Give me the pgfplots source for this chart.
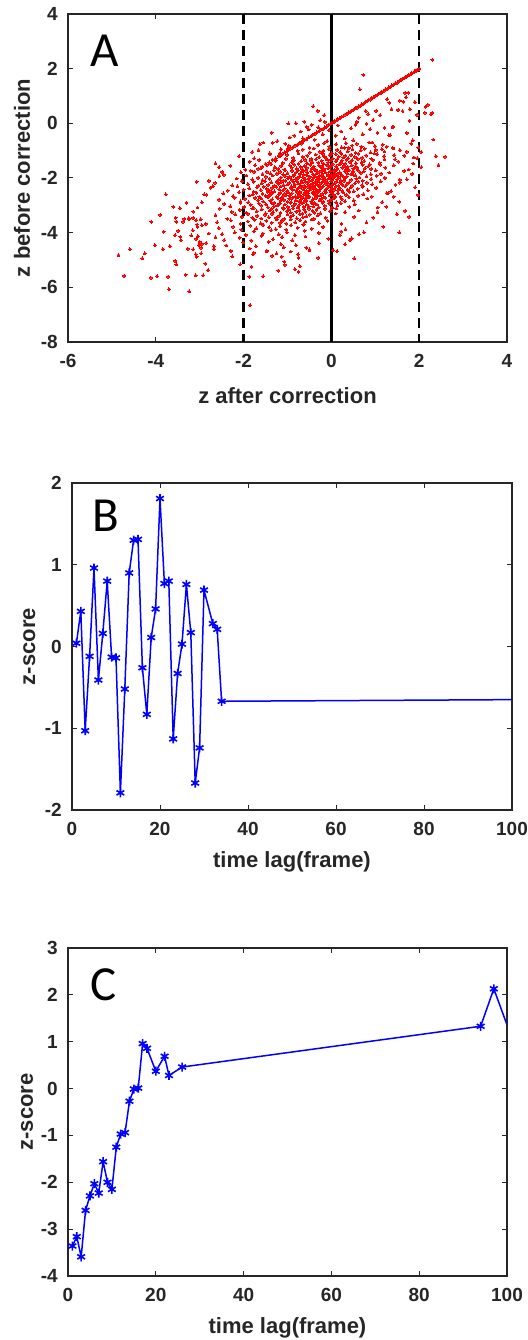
\documentclass[border=0pt]{standalone}
\usepackage{fontspec}
\setmainfont{Liberation Sans}
\newfontfamily\letterfont{Carlito}
\usepackage{pgfplots}
\pgfplotsset{compat=1.18}
\definecolor{axgray}{rgb}{0.15,0.15,0.15}
\definecolor{mblue}{rgb}{0,0,1}
\pgfplotsset{
  mystyle/.style={
    scale only axis,
    axis line style={axgray, line width=1.2pt},
    tick style={axgray, line width=1pt},
    major tick length=5pt,
    tick align=inside,
    xtick pos=both, ytick pos=both,
    tick label style={font=\fontsize{19}{22}\selectfont\bfseries, text=axgray},
    xticklabel style={inner sep=0pt, anchor=north, yshift=-12pt},
    yticklabel style={inner sep=0pt, anchor=east, xshift=-10pt},
    label style={font=\fontsize{22}{26}\selectfont\bfseries, text=axgray},
    clip=true,
  },
}
\tikzset{letter/.style={anchor=base west, inner sep=0pt, font=\letterfont\fontsize{49}{52}\selectfont}}
\begin{document}
\begin{tikzpicture}
\useasboundingbox (0pt,0pt) rectangle (527pt,-1340pt);
% ---------------- Panel A ----------------
\begin{axis}[mystyle,
  at={(68pt,-14pt)}, anchor=north west,
  width=439pt, height=328pt,
  xmin=-6, xmax=4, ymin=-8, ymax=4,
  xtick={-6,-4,-2,0,2,4}, xticklabels={-6,-4,-2,0,2,4},
  ytick={-8,-6,-4,-2,0,2,4}, yticklabels={-8,-6,-4,-2,0,2,4},
  xlabel={z after correction},
  ylabel={z before correction},
  xlabel style={at={(axis description cs:0.5,-0.186)}, anchor=base},
  ylabel style={at={(axis description cs:-0.0866,0.5)}, anchor=base, rotate=0},
]
\addplot[color=red, only marks, mark=*, mark size=1.45pt, mark options={draw=red, fill=red, line width=0pt}] coordinates {
(2.00,2.00) (1.96,1.97) (1.93,1.92) (1.90,1.91) (1.87,1.86) (1.83,1.84) (1.80,1.79) (1.76,1.77) (1.72,1.71) (1.69,1.70) (1.65,1.64) (1.61,1.62) (1.58,1.57) (1.54,1.55) (1.50,1.49) (1.46,1.47) (1.42,1.41) (1.38,1.39) (1.35,1.34) (1.31,1.32) (1.27,1.26) (1.23,1.24) (1.19,1.18) (1.15,1.16) (1.12,1.11) (1.08,1.09) (1.04,1.03) (1.00,1.01) (0.96,0.95) (0.92,0.93) (0.88,0.87) (0.85,0.86) (0.81,0.80) (0.77,0.78) (0.73,0.72) (0.69,0.70) (0.66,0.65) (0.62,0.63) (0.58,0.57) (0.54,0.55) (0.50,0.49) (0.46,0.47) (0.43,0.42) (0.39,0.40) (0.35,0.34) (0.31,0.32) (0.27,0.26) (0.23,0.24) (0.19,0.18) (0.15,0.16) (0.12,0.11) (0.08,0.09) (0.04,0.03) (0.01,0.02) (-0.03,-0.04) (-0.07,-0.06) (-0.11,-0.12) (-0.15,-0.14) (-0.19,-0.20) (-0.24,-0.23) (-0.28,-0.29) (-0.33,-0.32) (-0.38,-0.39) (-0.42,-0.41) (-0.47,-0.48) (-0.52,-0.51) (-0.57,-0.58) (-0.62,-0.61) (-0.67,-0.68) (-0.72,-0.71) (-0.78,-0.79) (-0.83,-0.82) (-0.89,-0.90) (-0.95,-0.94) (-1.01,-1.02) (-1.07,-1.06) (-1.13,-1.14) (-1.20,-1.19) (-1.27,-1.28) (-1.34,-1.33) (-1.42,-1.43) (-1.50,-1.49) (-1.58,-1.59) (-1.67,-1.66) (-1.76,-1.77)
(2.30,2.32) (0.73,1.77) (0.65,1.24)
(1.68,1.12) (1.75,1.12) (1.56,0.83) (1.64,0.79) (1.27,0.89) (1.32,0.75) (1.37,0.52) (1.62,0.45) (1.79,0.51) (2.15,0.61) (2.27,0.34) (2.30,0.39) (2.13,0.39) (1.02,0.46) (0.78,0.45) (0.84,0.34) (1.21,-0.16) (1.40,-0.15) (1.31,-0.43) (2.32,-0.59) (2.38,-1.20) (2.59,-1.22) (2.44,-1.53) (1.52,0.49) (1.41,-0.12) (1.34,-0.43) (1.26,-0.85) (1.56,-0.98) (1.11,0.30) (0.95,0.12) (0.62,0.21) (0.55,-0.05) (0.88,-0.22) (1.05,-0.35) (0.71,-0.40) (0.45,-0.18) (0.50,-0.62) (0.93,-0.70) (1.15,-0.95) (0.68,-0.85) (1.72,-0.35) (1.85,-0.62) (1.98,-0.88) (2.05,-1.05) (1.88,-1.25) (1.66,-1.18) (1.45,-1.32) (1.20,-1.20) (0.98,-1.10) (0.40,-0.90) (0.30,-0.55) (0.22,-0.30) (0.15,-0.08) (0.58,0.05) (0.80,-0.02) (1.78,0.10) (1.95,0.32) (2.20,0.68) (1.90,0.78) (1.70,0.95)
(-0.41,0.63) (-0.31,0.46) (-0.16,0.30) (-0.98,0.00) (-0.81,0.00) (-0.62,0.06) (-0.56,-0.13) (-0.45,-0.05) (-1.36,-0.34) (-1.63,-0.76) (-1.23,-0.65) (-0.70,-0.30) (-0.85,-0.45) (-1.05,-0.75) (-0.30,-0.15) (-0.15,0.05) (-0.25,0.12) (-0.52,-0.22) (-0.95,-0.52) (-1.15,-0.95) (-1.40,-1.10) (-0.65,-0.55) (-0.20,-0.40) (-0.05,-0.25) (-0.38,-0.60) (0.10,-0.45) (-0.10,-0.65)
(-1.34,-0.71) (-0.97,-0.82) (-0.67,-0.74) (-0.50,-0.89) (-0.30,-0.79) (-0.16,-0.72) (-0.05,-0.85) (0.11,-0.76) (0.23,-0.88) (0.33,-0.73) (0.47,-0.81) (0.58,-0.75) (0.69,-0.86) (0.86,-0.70) (0.99,-0.83) (1.17,-0.78) (1.40,-0.90) (1.82,-0.74)
(-1.66,-0.98) (-1.17,-1.10) (-0.99,-0.93) (-0.77,-1.01) (-0.65,-0.96) (-0.49,-1.07) (-0.40,-0.92) (-0.26,-1.04) (-0.18,-1.00) (-0.06,-0.94) (0.01,-1.09) (0.13,-0.97) (0.20,-1.05) (0.30,-0.90) (0.37,-1.02) (0.48,-0.95) (0.55,-1.08) (0.67,-0.99) (0.76,-0.93) (0.89,-1.06) (1.01,-0.97) (1.21,-1.03) (1.41,-0.92) (1.72,-1.04)
(-1.76,-1.28) (-1.40,-1.13) (-1.17,-1.21) (-1.01,-1.15) (-0.87,-1.26) (-0.75,-1.10) (-0.65,-1.23) (-0.55,-1.18) (-0.46,-1.30) (-0.36,-1.14) (-0.28,-1.24) (-0.20,-1.12) (-0.16,-1.20) (-0.12,-1.27) (-0.04,-1.16) (0.03,-1.29) (0.10,-1.13) (0.17,-1.22) (0.23,-1.11) (0.27,-1.25) (0.31,-1.19) (0.38,-1.28) (0.45,-1.15) (0.53,-1.23) (0.61,-1.11) (0.70,-1.26) (0.79,-1.18) (0.91,-1.30) (1.04,-1.13) (1.20,-1.21) (1.43,-1.16) (1.96,-1.27)
(-1.86,-1.40) (-1.64,-1.34) (-1.37,-1.49) (-1.27,-1.37) (-1.11,-1.45) (-1.04,-1.30) (-0.90,-1.42) (-0.85,-1.35) (-0.75,-1.48) (-0.69,-1.39) (-0.60,-1.33) (-0.56,-1.46) (-0.46,-1.37) (-0.43,-1.43) (-0.35,-1.32) (-0.30,-1.44) (-0.22,-1.37) (-0.19,-1.47) (-0.11,-1.31) (-0.07,-1.42) (0.00,-1.34) (0.03,-1.49) (0.10,-1.39) (0.13,-1.32) (0.21,-1.45) (0.24,-1.36) (0.31,-1.48) (0.35,-1.33) (0.43,-1.41) (0.47,-1.35) (0.56,-1.46) (0.60,-1.30) (0.69,-1.43) (0.75,-1.38) (0.87,-1.50) (0.94,-1.34) (1.10,-1.44) (1.21,-1.32) (1.52,-1.40) (1.86,-1.47)
(-1.96,-1.70) (-1.74,-1.54) (-1.60,-1.64) (-1.47,-1.52) (-1.29,-1.60) (-1.21,-1.67) (-1.14,-1.56) (-1.07,-1.69) (-0.95,-1.53) (-0.90,-1.62) (-0.85,-1.51) (-0.79,-1.65) (-0.70,-1.59) (-0.66,-1.68) (-0.61,-1.55) (-0.56,-1.63) (-0.48,-1.51) (-0.45,-1.66) (-0.40,-1.58) (-0.36,-1.70) (-0.29,-1.53) (-0.24,-1.61) (-0.21,-1.56) (-0.17,-1.67) (-0.10,-1.52) (-0.07,-1.64) (-0.03,-1.60) (0.00,-1.54) (0.07,-1.69) (0.11,-1.57) (0.14,-1.65) (0.18,-1.50) (0.25,-1.62) (0.29,-1.55) (0.33,-1.68) (0.37,-1.59) (0.46,-1.53) (0.50,-1.66) (0.55,-1.57) (0.59,-1.63) (0.71,-1.52) (0.77,-1.64) (0.84,-1.57) (0.91,-1.67) (1.11,-1.51) (1.23,-1.62) (1.42,-1.54) (1.76,-1.69)
(-2.45,-1.88) (-2.06,-1.79) (-1.84,-1.73) (-1.57,-1.86) (-1.47,-1.77) (-1.39,-1.83) (-1.31,-1.72) (-1.24,-1.84) (-1.17,-1.77) (-1.10,-1.87) (-1.05,-1.71) (-1.00,-1.82) (-0.89,-1.74) (-0.85,-1.89) (-0.80,-1.79) (-0.76,-1.72) (-0.71,-1.85) (-0.66,-1.76) (-0.63,-1.88) (-0.58,-1.73) (-0.55,-1.81) (-0.46,-1.75) (-0.42,-1.86) (-0.39,-1.70) (-0.34,-1.83) (-0.31,-1.78) (-0.27,-1.90) (-0.23,-1.74) (-0.20,-1.84) (-0.17,-1.72) (-0.13,-1.80) (-0.07,-1.87) (-0.03,-1.76) (0.01,-1.89) (0.04,-1.73) (0.08,-1.82) (0.11,-1.71) (0.15,-1.85) (0.19,-1.79) (0.23,-1.88) (0.31,-1.75) (0.36,-1.83) (0.40,-1.71) (0.45,-1.86) (0.49,-1.78) (0.55,-1.90) (0.61,-1.73) (0.67,-1.81) (0.74,-1.76) (0.90,-1.87) (1.01,-1.72) (1.13,-1.84) (1.32,-1.80) (1.66,-1.74)
(-2.55,-1.93) (-2.16,-2.02) (-1.94,-1.91) (-1.80,-2.05) (-1.67,-1.99) (-1.57,-2.08) (-1.49,-1.95) (-1.41,-2.03) (-1.34,-1.91) (-1.20,-2.06) (-1.15,-1.98) (-1.10,-2.10) (-1.05,-1.93) (-0.99,-2.01) (-0.95,-1.96) (-0.90,-2.07) (-0.86,-1.92) (-0.81,-2.04) (-0.76,-2.00) (-0.73,-1.94) (-0.68,-2.09) (-0.65,-1.97) (-0.60,-2.05) (-0.56,-1.90) (-0.52,-2.02) (-0.49,-1.95) (-0.44,-2.08) (-0.41,-1.99) (-0.37,-1.93) (-0.33,-2.06) (-0.30,-1.97) (-0.27,-2.03) (-0.23,-1.92) (-0.20,-2.04) (-0.17,-1.97) (-0.13,-2.07) (-0.09,-1.91) (-0.06,-2.02) (-0.02,-1.94) (0.01,-2.09) (0.05,-1.99) (0.09,-1.92) (0.13,-2.05) (0.17,-1.96) (0.21,-2.08) (0.26,-1.93) (0.30,-2.01) (0.35,-1.95) (0.45,-2.06) (0.51,-1.90) (0.57,-2.03) (0.64,-1.98) (0.71,-2.10) (0.80,-1.94) (0.91,-2.04) (1.03,-1.92) (1.22,-2.00) (1.56,-2.07)
(-2.65,-2.17) (-2.26,-2.27) (-2.04,-2.11) (-1.90,-2.22) (-1.77,-2.14) (-1.67,-2.29) (-1.59,-2.19) (-1.51,-2.12) (-1.44,-2.25) (-1.37,-2.16) (-1.30,-2.28) (-1.25,-2.13) (-1.20,-2.21) (-1.15,-2.15) (-1.09,-2.26) (-1.05,-2.10) (-1.00,-2.23) (-0.96,-2.18) (-0.91,-2.30) (-0.86,-2.14) (-0.83,-2.24) (-0.78,-2.12) (-0.75,-2.20) (-0.70,-2.27) (-0.66,-2.16) (-0.62,-2.29) (-0.59,-2.13) (-0.54,-2.22) (-0.51,-2.11) (-0.47,-2.25) (-0.43,-2.19) (-0.40,-2.28) (-0.37,-2.15) (-0.33,-2.23) (-0.30,-2.11) (-0.27,-2.26) (-0.23,-2.18) (-0.19,-2.30) (-0.16,-2.13) (-0.12,-2.21) (-0.09,-2.16) (-0.05,-2.27) (-0.01,-2.12) (0.03,-2.24) (0.07,-2.20) (0.11,-2.14) (0.16,-2.29) (0.20,-2.17) (0.25,-2.25) (0.29,-2.10) (0.35,-2.22) (0.41,-2.15) (0.47,-2.28) (0.54,-2.19) (0.61,-2.13) (0.70,-2.26) (0.81,-2.17) (0.93,-2.23) (1.12,-2.12) (1.46,-2.24)
(-2.75,-2.35) (-2.36,-2.46) (-2.14,-2.30) (-2.00,-2.43) (-1.87,-2.38) (-1.77,-2.50) (-1.69,-2.34) (-1.61,-2.44) (-1.54,-2.32) (-1.47,-2.40) (-1.40,-2.47) (-1.35,-2.36) (-1.30,-2.49) (-1.25,-2.33) (-1.19,-2.42) (-1.15,-2.31) (-1.10,-2.45) (-1.06,-2.39) (-1.01,-2.48) (-0.93,-2.35) (-0.88,-2.43) (-0.85,-2.31) (-0.80,-2.46) (-0.76,-2.38) (-0.72,-2.50) (-0.69,-2.33) (-0.64,-2.41) (-0.61,-2.36) (-0.57,-2.47) (-0.53,-2.32) (-0.50,-2.44) (-0.47,-2.40) (-0.43,-2.34) (-0.40,-2.49) (-0.37,-2.37) (-0.33,-2.45) (-0.29,-2.30) (-0.26,-2.42) (-0.22,-2.35) (-0.15,-2.48) (-0.11,-2.39) (-0.07,-2.33) (-0.03,-2.46) (0.01,-2.37) (0.06,-2.43) (0.10,-2.32) (0.15,-2.44) (0.19,-2.37) (0.25,-2.47) (0.31,-2.31) (0.37,-2.42) (0.44,-2.34) (0.51,-2.49) (0.60,-2.39) (0.71,-2.32) (0.83,-2.45) (1.02,-2.36) (1.36,-2.48)
(-2.85,-2.61) (-2.46,-2.56) (-2.24,-2.67) (-2.10,-2.52) (-1.87,-2.64) (-1.79,-2.60) (-1.71,-2.54) (-1.64,-2.69) (-1.57,-2.57) (-1.50,-2.65) (-1.45,-2.50) (-1.40,-2.62) (-1.35,-2.55) (-1.25,-2.68) (-1.20,-2.59) (-1.16,-2.53) (-1.11,-2.66) (-1.06,-2.57) (-1.03,-2.63) (-0.98,-2.52) (-0.95,-2.64) (-0.90,-2.57) (-0.82,-2.67) (-0.79,-2.51) (-0.74,-2.62) (-0.71,-2.54) (-0.67,-2.69) (-0.63,-2.59) (-0.60,-2.52) (-0.57,-2.65) (-0.53,-2.56) (-0.50,-2.68) (-0.43,-2.53) (-0.39,-2.61) (-0.36,-2.55) (-0.32,-2.66) (-0.29,-2.50) (-0.25,-2.63) (-0.21,-2.58) (-0.17,-2.70) (-0.13,-2.54) (-0.04,-2.64) (0.00,-2.52) (0.05,-2.60) (0.09,-2.67) (0.15,-2.56) (0.21,-2.69) (0.27,-2.53) (0.34,-2.62) (0.41,-2.51) (0.61,-2.65) (0.73,-2.59) (0.92,-2.68) (1.26,-2.55)
(-2.95,-2.89) (-2.56,-2.79) (-2.20,-2.72) (-2.07,-2.85) (-1.97,-2.76) (-1.89,-2.88) (-1.74,-2.73) (-1.67,-2.81) (-1.60,-2.75) (-1.55,-2.86) (-1.45,-2.70) (-1.39,-2.83) (-1.35,-2.78) (-1.30,-2.90) (-1.21,-2.74) (-1.16,-2.84) (-1.13,-2.72) (-1.08,-2.80) (-1.00,-2.87) (-0.96,-2.76) (-0.92,-2.89) (-0.89,-2.73) (-0.81,-2.82) (-0.77,-2.71) (-0.73,-2.85) (-0.70,-2.79) (-0.63,-2.88) (-0.60,-2.75) (-0.57,-2.83) (-0.53,-2.71) (-0.46,-2.86) (-0.42,-2.78) (-0.39,-2.90) (-0.35,-2.73) (-0.27,-2.81) (-0.23,-2.76) (-0.19,-2.87) (-0.14,-2.72) (-0.05,-2.84) (-0.01,-2.80) (0.05,-2.74) (0.11,-2.89) (0.24,-2.77) (0.31,-2.85) (0.40,-2.70) (0.51,-2.82) (0.82,-2.75) (1.16,-2.88)
(-3.05,-3.08) (-2.44,-2.95) (-2.30,-3.03) (-2.07,-2.91) (-1.99,-3.06) (-1.84,-2.98) (-1.77,-3.10) (-1.65,-2.93) (-1.60,-3.01) (-1.49,-2.96) (-1.45,-3.07) (-1.36,-2.92) (-1.31,-3.04) (-1.23,-3.00) (-1.18,-2.94) (-1.10,-3.09) (-1.06,-2.97) (-0.99,-3.05) (-0.94,-2.90) (-0.87,-3.02) (-0.83,-2.95) (-0.77,-3.08) (-0.73,-2.99) (-0.67,-2.93) (-0.63,-3.06) (-0.56,-2.97) (-0.52,-3.03) (-0.45,-2.92) (-0.41,-3.04) (-0.33,-2.97) (-0.29,-3.07) (-0.20,-2.91) (-0.15,-3.02) (-0.05,-2.94) (0.01,-3.09) (0.14,-2.99) (0.21,-2.92) (0.41,-3.05) (0.53,-2.96) (1.06,-3.08)
(-3.15,-3.23) (-2.54,-3.12) (-2.27,-3.24) (-2.09,-3.17) (-1.94,-3.27) (-1.80,-3.11) (-1.70,-3.22) (-1.59,-3.14) (-1.50,-3.29) (-1.41,-3.19) (-1.36,-3.12) (-1.33,-3.25) (-1.25,-3.16) (-1.16,-3.28) (-1.09,-3.13) (-1.01,-3.21) (-0.97,-3.15) (-0.93,-3.26) (-0.87,-3.10) (-0.80,-3.23) (-0.73,-3.18) (-0.66,-3.30) (-0.62,-3.14) (-0.59,-3.24) (-0.51,-3.12) (-0.43,-3.20) (-0.39,-3.27) (-0.34,-3.16) (-0.25,-3.29) (-0.15,-3.13) (-0.03,-3.22) (0.11,-3.11) (0.31,-3.25) (0.62,-3.19)
(-3.25,-3.47) (-2.64,-3.36) (-2.37,-3.49) (-2.19,-3.33) (-2.04,-3.42) (-1.90,-3.31) (-1.80,-3.45) (-1.69,-3.39) (-1.60,-3.48) (-1.51,-3.35) (-1.43,-3.43) (-1.35,-3.31) (-1.26,-3.46) (-1.19,-3.38) (-1.07,-3.50) (-1.00,-3.33) (-0.93,-3.41) (-0.87,-3.36) (-0.79,-3.47) (-0.72,-3.32) (-0.65,-3.44) (-0.57,-3.40) (-0.49,-3.34) (-0.40,-3.49) (-0.31,-3.37) (-0.13,-3.45) (0.10,-3.30) (0.52,-3.42)
(-3.35,-3.50) (-2.60,-3.62) (-2.29,-3.55) (-2.07,-3.68) (-1.90,-3.59) (-1.75,-3.53) (-1.61,-3.66) (-1.48,-3.57) (-1.36,-3.63) (-1.24,-3.52) (-1.17,-3.64) (-1.13,-3.57) (-1.03,-3.67) (-0.93,-3.51) (-0.82,-3.62) (-0.71,-3.54) (-0.63,-3.69) (-0.59,-3.59) (-0.45,-3.52) (-0.29,-3.65) (-0.09,-3.56) (0.23,-3.68)
(-3.06,-3.70) (-2.57,-3.83) (-2.24,-3.78) (-2.05,-3.90) (-1.85,-3.74) (-1.71,-3.84) (-1.55,-3.72) (-1.42,-3.80) (-1.27,-3.87) (-1.17,-3.76) (-1.03,-3.89) (-0.92,-3.73) (-0.77,-3.82) (-0.64,-3.71) (-0.45,-3.85) (-0.19,-3.79) (0.32,-3.88)
(-3.16,-3.91) (-2.49,-4.05) (-2.20,-3.99) (-1.95,-4.08) (-1.76,-3.95) (-1.56,-4.03) (-1.37,-3.91) (-1.20,-4.06) (-1.02,-3.98) (-0.83,-4.10) (-0.61,-3.93) (-0.29,-4.01) (0.22,-3.96)
(-3.04,-4.13) (-2.44,-4.27) (-2.09,-4.18) (-1.83,-4.29) (-1.59,-4.12) (-1.33,-4.24) (-1.12,-4.16) (-0.89,-4.28) (-0.59,-4.14) (-0.07,-4.22)
(-3.00,-4.34) (-2.40,-4.47) (-2.01,-4.36) (-1.72,-4.49) (-1.43,-4.33) (-1.15,-4.42) (-0.81,-4.46) (-0.29,-4.38)
(-2.97,-4.55) (-2.29,-4.67) (-1.86,-4.58) (-1.47,-4.69) (-1.09,-4.53) (-0.50,-4.64)
(-2.97,-4.76) (-2.26,-4.87) (-1.77,-4.74) (-1.35,-4.85) (-0.76,-4.79)
(-4.85,-4.82) (-4.59,-4.61) (-4.72,-5.58) (-4.31,-4.94) (-4.25,-4.76) (-4.11,-5.65) (-3.97,-5.59) (-3.72,-5.61) (-3.70,-6.07) (-4.02,-4.46) (-3.84,-4.60) (-3.68,-4.49) (-3.82,-3.96) (-3.77,-2.60) (-3.56,-5.03) (-3.53,-5.16) (-3.32,-5.54) (-3.24,-6.15) (-3.09,-5.56) (-2.92,-5.56) (-2.87,-5.13) (-2.81,-5.37) (-3.56,-4.09) (-3.49,-3.93) (-3.44,-4.15) (-3.43,-4.27) (-3.55,-3.46) (-3.53,-3.60) (-3.38,-3.60) (-3.24,-3.51) (-3.15,-3.46) (-3.08,-3.54) (-2.98,-3.51) (-3.05,-3.79) (-3.19,-4.10) (-3.08,-4.23) (-3.27,-4.59) (-3.15,-4.61) (-3.09,-4.79) (-3.07,-4.88) (-3.02,-4.46) (-2.95,-4.41) (-2.85,-4.38) (-2.79,-4.03) (-2.68,-4.60) (-2.68,-4.49) (-2.64,-4.17) (-2.95,-3.73) (-2.86,-3.68) (-3.07,-2.14) (-2.79,-2.10) (-2.64,-1.46) (-2.56,-1.61) (-2.49,-1.78)
(-1.85,-6.65) (-1.55,-5.59) (-1.87,-5.61) (-1.21,-5.39) (-0.83,-5.34) (-0.75,-5.43) (-1.06,-5.18) (-0.72,-5.22) (-1.07,-5.06) (-1.13,-4.88) (-0.75,-4.92) (-0.30,-4.92) (-1.25,-4.76) (-1.47,-4.66) (-1.78,-4.79) (-2.08,-5.16) (-1.82,-5.25) (-0.57,-4.55) (-0.50,-4.61) (-0.93,-4.69) (0.19,-4.09) (0.31,-4.43) (0.46,-4.20) (0.52,-4.94) (0.04,-4.64) (0.13,-4.68)
(0.42,-4.27) (0.74,-3.99) (1.18,-3.78) (1.55,-3.99) (1.77,-3.42) (1.68,-3.20) (1.49,-3.32) (1.84,-1.85) (1.91,-2.34) (1.56,-2.17) (1.55,-2.87) (1.30,-2.55) (1.42,-2.68) (1.25,-3.05) (0.95,-3.45) (0.80,-3.62) (1.05,-3.25) (2.05,-1.60) (1.72,-2.05) (1.98,-2.62) (0.63,-4.05)
(-2.10,-1.20) (-1.80,-1.05) (-1.55,-0.70) (-2.30,-1.55) (-2.70,-2.30) (-2.90,-2.60) (-3.30,-2.90) (-3.45,-3.10) (-3.60,-3.05) (-4.10,-3.60) (-3.90,-3.35)
};
\addplot[black, line width=2.4pt, dash pattern=on 10pt off 6pt] coordinates {(-2,4) (-2,-8)};
\addplot[black, line width=2.4pt, dash pattern=on 10pt off 6pt] coordinates {(2,4) (2,-8)};
\addplot[black, line width=2.4pt] coordinates {(0,4) (0,-8)};
\node[letter] at (axis description cs:0.05,0.839) {A};
\end{axis}
% ---------------- Panel B ----------------
\begin{axis}[mystyle,
  at={(72pt,-483pt)}, anchor=north west,
  width=440pt, height=327pt,
  xmin=0, xmax=100, ymin=-2, ymax=2,
  xtick={0,20,40,60,80,100}, xticklabels={0,20,40,60,80,100},
  ytick={-2,-1,0,1,2}, yticklabels={-2,-1,0,1,2},
  xlabel={time lag(frame)},
  ylabel={z-score},
  xlabel style={at={(axis description cs:0.5,-0.177)}, anchor=base},
  ylabel style={at={(axis description cs:-0.084,0.5)}, anchor=base, rotate=0},
]
\addplot[mblue, line width=1.5pt] coordinates {(34,-0.67) (100,-0.65)};
\addplot[mblue, line width=1.5pt, mark=asterisk, mark size=4.5pt, mark options={line width=1.6pt, solid}] coordinates {
(1,0.04) (2,0.43) (3,-1.03) (4,-0.12) (5,0.96) (6,-0.41) (7,0.16) (8,0.80) (9,-0.13) (10,-0.14) (11,-1.79) (12,-0.52) (13,0.90) (14,1.30) (15,1.31) (16,-0.26) (17,-0.83) (18,0.11) (19,0.46) (20,1.81) (21,0.77) (22,0.80) (23,-1.13) (24,-0.33) (25,0.03) (26,0.76) (27,0.17) (28,-1.67) (29,-1.24) (30,0.69) (32,0.28) (33,0.21) (34,-0.67)
};
\node[letter] at (axis description cs:0.045,0.851) {B};
\end{axis}
% ---------------- Panel C ----------------
\begin{axis}[mystyle,
  at={(68pt,-948pt)}, anchor=north west,
  width=439pt, height=328pt,
  xmin=0, xmax=100, ymin=-4, ymax=3,
  xtick={0,20,40,60,80,100}, xticklabels={0,20,40,60,80,100},
  ytick={-4,-3,-2,-1,0,1,2,3}, yticklabels={-4,-3,-2,-1,0,1,2,3},
  xlabel={time lag(frame)},
  ylabel={z-score},
  xlabel style={at={(axis description cs:0.5,-0.174)}, anchor=base},
  ylabel style={at={(axis description cs:-0.080,0.5)}, anchor=base, rotate=0},
]
\addplot[mblue, line width=1.5pt] coordinates {(97,2.13) (100,1.36)};
\addplot[mblue, line width=1.5pt, mark=asterisk, mark size=4.5pt, mark options={line width=1.6pt, solid}] coordinates {
(1,-3.36) (2,-3.16) (3,-3.59) (4,-2.60) (5,-2.29) (6,-2.03) (7,-2.23) (8,-1.56) (9,-2.00) (10,-2.15) (11,-1.25) (12,-0.97) (13,-0.94) (14,-0.27) (15,-0.01) (16,0.01) (17,0.96) (18,0.86) (20,0.37) (22,0.69) (23,0.28) (26,0.46) (94,1.33) (97,2.13)
};
\node[letter] at (axis description cs:0.05,0.841) {C};
\end{axis}
\end{tikzpicture}
\end{document}
